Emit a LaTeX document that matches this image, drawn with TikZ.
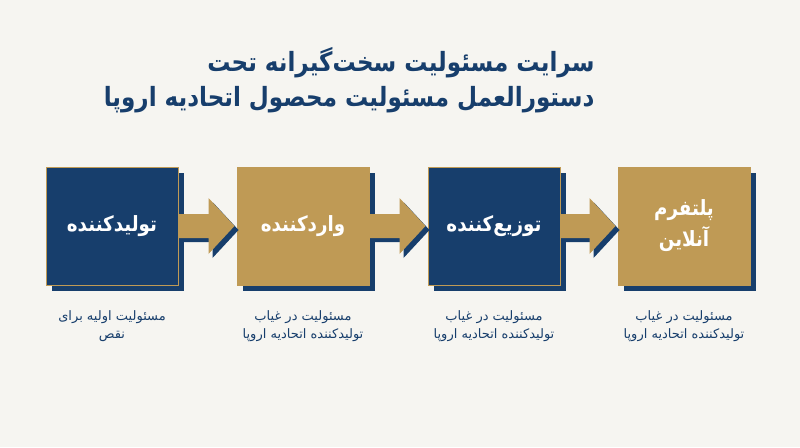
\documentclass[tikz,border=0pt]{standalone}
\usepackage{fontspec}
\usetikzlibrary{calc,shadows}
\TeXXeTstate=1
\newfontfamily\fa[Script=Arabic]{DejaVu Sans}
\newfontfamily\fanar[Script=Arabic,FakeStretch=0.87]{DejaVu Sans}
\definecolor{navy}{HTML}{173E6C}
\definecolor{gold}{HTML}{BF9A55}
\definecolor{bg}{HTML}{F6F5F1}
\begin{document}
\begin{tikzpicture}[x=1pt,y=-1pt,
  stagebox/.style={minimum width=132pt,minimum height=118pt,inner sep=0pt,
    draw=gold,line width=1pt,text=white,align=center,
    font=\fanar\bfseries\fontsize{21}{31}\selectfont,
    general shadow={fill=navy,shadow xshift=6pt,shadow yshift=-6pt}},
  navybox/.style={stagebox,fill=navy},
  goldbox/.style={stagebox,fill=gold},
  note/.style={text=navy,align=center,font=\fa\fontsize{13}{18.5}\selectfont},
  fatarrow/.style={to path={
    let \p1=(\tikztostart.east), \p2=(\tikztotarget.west) in
    (\x1,\y1+12pt) -- (\x2-28pt,\y1+12pt) -- (\x2-28pt,\y1+28pt) --
    (\x2-2pt,\y1) -- (\x2-28pt,\y1-28pt) -- (\x2-28pt,\y1-12pt) --
    (\x1,\y1-12pt) -- cycle}}]
\fill[bg] (0,0) rectangle (800,447);
\useasboundingbox (0,0) rectangle (800,447);

\node[text=navy,align=right,anchor=east,font=\fanar\bfseries\fontsize{26.5}{35}\selectfont]
  (title) at (598,80) {\beginR سرایت مسئولیت سخت‌گیرانه تحت\endR\\
  \beginR دستورالعمل مسئولیت محصول اتحادیه اروپا\endR};

\node[navybox] (b1) at (112,226) {\beginR تولیدکننده\endR};
\node[goldbox] (b2) at (303,226) {\beginR واردکننده\endR};
\node[navybox] (b3) at (494,226) {\beginR توزیع‌کننده\endR};
\node[goldbox] (b4) at (684,226) {\beginR پلتفرم\endR\\\beginR آنلاین\endR};

\foreach \a/\b in {b1/b2,b2/b3,b3/b4}{
  \fill[navy,transform canvas={shift={(4pt,-4pt)}}] (\a) to[fatarrow] (\b);
  \fill[gold] (\a) to[fatarrow] (\b);
}

\node[note] (n1) at (112,326) {\beginR مسئولیت اولیه برای\endR\\\beginR نقص\endR};
\node[note] (n2) at (303,326) {\beginR مسئولیت در غیاب\endR\\\beginR تولیدکننده اتحادیه اروپا\endR};
\node[note] (n3) at (494,326) {\beginR مسئولیت در غیاب\endR\\\beginR تولیدکننده اتحادیه اروپا\endR};
\node[note] (n4) at (684,326) {\beginR مسئولیت در غیاب\endR\\\beginR تولیدکننده اتحادیه اروپا\endR};
\end{tikzpicture}
\end{document}
